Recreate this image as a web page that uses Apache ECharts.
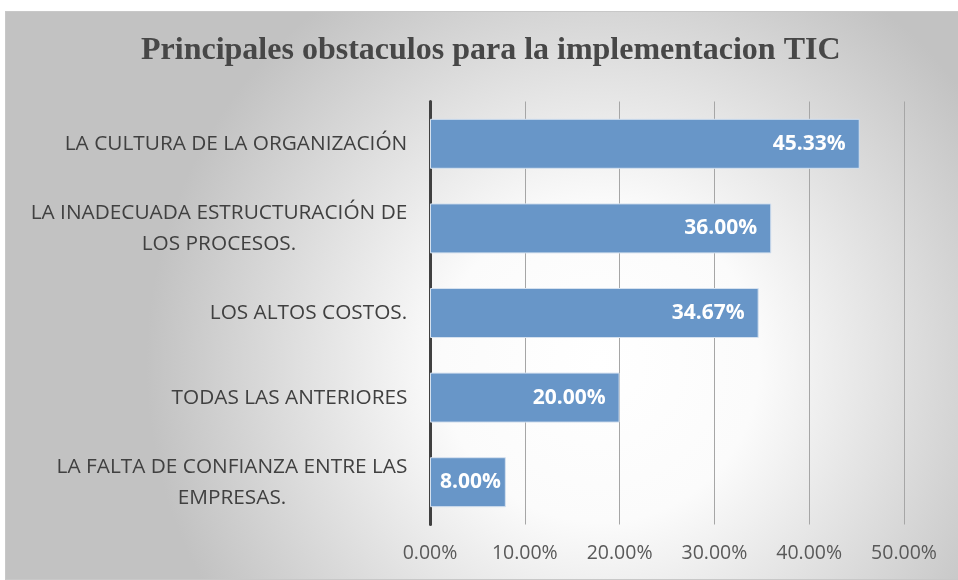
<!DOCTYPE html>
<html>
<head>
<meta charset="utf-8">
<script src="https://cdn.jsdelivr.net/npm/echarts@6/dist/echarts.min.js"></script>
<style>
html,body{margin:0;padding:0;background:#fff;overflow:hidden;width:958px;height:580px;}
#c{position:absolute;left:5px;top:11px;width:960px;height:569px;box-sizing:border-box;border:1px solid #c8c8c8;}
</style>
</head>
<body>
<div id="c"></div>
<script>
const titleText = 'Principales obstaculos para la implementacion TIC';
const categories = [
  'LA CULTURA DE LA ORGANIZACIÓN',
  'LA INADECUADA ESTRUCTURACIÓN DE\nLOS PROCESOS.',
  'LOS ALTOS COSTOS.',
  'TODAS LAS ANTERIORES',
  'LA FALTA DE CONFIANZA ENTRE LAS\nEMPRESAS.'
];
const values = [45.33, 36.00, 34.67, 20.00, 8.00];
const axisMin = 0, axisMax = 50, axisStep = 10;

const labelSize = 20.8;
const cv = document.createElement('canvas').getContext('2d');
cv.font = labelSize + 'px "Open Sans"';
const rich = {};
categories.forEach((c, i) => {
  const w = Math.max(...c.split('\n').map(l => cv.measureText(l).width));
  rich['c' + i] = {width: Math.ceil(w) + 1, align: 'center', fontFamily: 'Open Sans', fontSize: labelSize, color: '#404040', lineHeight: 31};
});

const chart = echarts.init(document.getElementById('c'));
chart.setOption({
  backgroundColor: {
    type: 'radial', x: 0.62, y: 0.62, r: 0.8,
    colorStops: [{offset: 0, color: '#ffffff'}, {offset: 0.35, color: '#fbfbfb'}, {offset: 1, color: '#c2c2c2'}]
  },
  title: {
    text: titleText, left: 130, top: 18,
    textStyle: {fontFamily: '"Liberation Serif", "Times New Roman", serif', fontWeight: 'bold', fontSize: 32, color: '#474747'}
  },
  grid: {left: 424, right: 60, top: 89.5, bottom: 54.5, containLabel: false},
  xAxis: {
    type: 'value', min: axisMin, max: axisMax, interval: axisStep,
    axisLine: {show: false}, axisTick: {show: false},
    splitLine: {lineStyle: {color: '#a6a6a6', width: 1}},
    axisLabel: {formatter: v => v.toFixed(2) + '%', color: '#595959', fontFamily: 'Open Sans', fontSize: 19.5, margin: 19}
  },
  yAxis: {
    type: 'category', data: categories, inverse: true,
    axisLine: {lineStyle: {color: '#404040', width: 3}},
    axisTick: {show: false},
    axisLabel: {
      margin: 22, align: 'right',
      formatter: (v, i) => v.split('\n').map(l => '{c' + i + '|' + l + '}').join('\n'),
      rich: rich
    }
  },
  series: [{
    type: 'bar', barWidth: 50,
    data: values.map(v => v < 10 ? {value: v, label: {distance: 5}} : v),
    itemStyle: {color: '#6896c8', borderColor: '#d5e1ef', borderWidth: 1},
    label: {
      show: true, position: 'insideRight', distance: 14,
      formatter: p => p.value.toFixed(2) + '%',
      color: '#ffffff', fontWeight: 'bold', fontFamily: 'Open Sans', fontSize: 21
    }
  }]
});
</script>
</body>
</html>
